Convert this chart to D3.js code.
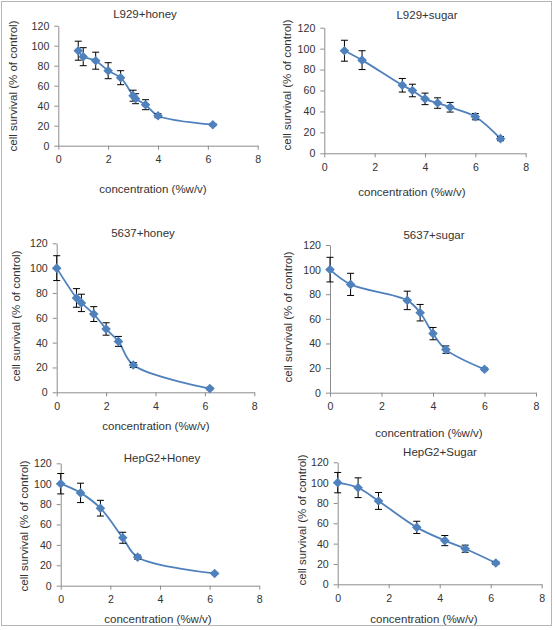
<!DOCTYPE html>
<html>
<head>
<meta charset="utf-8">
<script src="https://cdn.jsdelivr.net/npm/d3@7/dist/d3.min.js"></script>
<style>
html,body{margin:0;padding:0;background:#fff;}
svg{display:block;}
text{font-family:"Liberation Sans",Arial,sans-serif;fill:#333;}
</style>
</head>
<body>
<svg id="chart" width="555" height="630"></svg>
<script>
// ---- data ----
const panelTitles = ["L929+honey", "L929+sugar", "5637+honey", "5637+sugar", "HepG2+Honey", "HepG2+Sugar"];
const xTicks = [0, 2, 4, 6, 8];
const yTicks = [0, 20, 40, 60, 80, 100, 120];
const xAxisTitle = "concentration (%w/v)";
const yAxisTitle = "cell survival (% of control)";

const l929HoneyX   = [0.8, 1.0, 1.5, 2.0, 2.5, 3.0, 3.1, 3.5, 4.0, 6.2];
const l929HoneyY   = [95, 89, 85, 75, 68, 50, 47, 41, 30, 21];
const l929HoneyErr = [9.5, 9, 8.5, 8, 7, 5.5, 5, 5, 2, 1];

const l929SugarX   = [0.8, 1.5, 3.1, 3.5, 4.0, 4.5, 5.0, 6.0, 7.0];
const l929SugarY   = [98, 89, 65, 60, 52, 48, 44, 35, 14];
const l929SugarErr = [10, 9, 6.5, 6, 5.5, 5, 4.6, 3, 2];

const c5637HoneyX   = [0, 0.8, 1.0, 1.5, 2.0, 2.5, 3.1, 6.2];
const c5637HoneyY   = [100, 76, 72, 63, 51, 41, 22, 3];
const c5637HoneyErr = [10, 7.5, 7, 6, 5, 4, 2, 1];

const c5637SugarX   = [0, 0.8, 3.0, 3.5, 4.0, 4.5, 6.0];
const c5637SugarY   = [100, 88, 75, 65, 48, 35, 19];
const c5637SugarErr = [10, 9, 7.5, 6.7, 5, 3, 1];

const hepG2HoneyX   = [0, 0.8, 1.6, 2.5, 3.1, 6.2];
const hepG2HoneyY   = [100, 91, 76, 47, 28, 12];
const hepG2HoneyErr = [10, 9.5, 7.7, 5.4, 2, 1];

const hepG2SugarX   = [0, 0.8, 1.6, 3.1, 4.2, 5.0, 6.2];
const hepG2SugarY   = [100, 95, 82, 56, 43, 35, 21];
const hepG2SugarErr = [10, 9.7, 8.3, 6, 5, 3.5, 1.5];

const seriesX   = [l929HoneyX, l929SugarX, c5637HoneyX, c5637SugarX, hepG2HoneyX, hepG2SugarX];
const seriesY   = [l929HoneyY, l929SugarY, c5637HoneyY, c5637SugarY, hepG2HoneyY, hepG2SugarY];
const seriesErr = [l929HoneyErr, l929SugarErr, c5637HoneyErr, c5637SugarErr, hepG2HoneyErr, hepG2SugarErr];

// ---- layout (pixel positions of each panel) ----
const layout = [
  {x0: 58.3, x1: 257.7, yt: 25.7, yb: 145.7, tx: 145, ty: 15, xtx: 153, xty: 190, ytx: 14, yty: 86},
  {x0: 324.3, x1: 525.7, yt: 27.7, yb: 153.3, tx: 427, ty: 16, xtx: 412, xty: 193, ytx: 288, yty: 85},
  {x0: 56.7, x1: 254.3, yt: 243.3, yb: 392.3, tx: 143, ty: 234, xtx: 156, xty: 427, ytx: 17, yty: 316},
  {x0: 330, x1: 536, yt: 245, yb: 392.7, tx: 434, ty: 236, xtx: 429, xty: 434, ytx: 289, yty: 317},
  {x0: 60.7, x1: 259.3, yt: 463.3, yb: 585.7, tx: 162, ty: 459, xtx: 158, xty: 620, ytx: 25, yty: 526},
  {x0: 337.7, x1: 541.7, yt: 462.3, yb: 584.3, tx: 440, ty: 453, xtx: 424, xty: 620, ytx: 303, yty: 520}
];

const lineColor = "#4f81bd";
const axisColor = "#8c8c8c";

const svg = d3.select("#chart");
svg.append("rect").attr("x", 1.5).attr("y", 1.5).attr("width", 550).attr("height", 624)
  .attr("fill", "#fff").attr("stroke", "#b5b5b5").attr("stroke-width", 1);

panelTitles.forEach((title, i) => {
  const L = layout[i];
  const xs = seriesX[i], ys = seriesY[i], es = seriesErr[i];
  const x = d3.scaleLinear().domain([0, 8]).range([L.x0, L.x1]);
  const y = d3.scaleLinear().domain([0, 120]).range([L.yb, L.yt]);
  const g = svg.append("g");

  const xAxis = g.append("g").attr("transform", `translate(0,${L.yb})`)
    .call(d3.axisBottom(x).tickValues(xTicks).tickSize(4).tickSizeOuter(0).tickPadding(6));
  const yAxis = g.append("g").attr("transform", `translate(${L.x0},0)`)
    .call(d3.axisLeft(y).tickValues(yTicks).tickSize(4).tickSizeOuter(0).tickPadding(5));
  [xAxis, yAxis].forEach(a => {
    a.selectAll("path,line").attr("stroke", axisColor).attr("stroke-width", 1);
    a.selectAll("text").attr("font-size", "10.6px").attr("fill", "#333")
      .attr("font-family", "Liberation Sans, Arial, sans-serif");
  });

  g.append("text").attr("x", L.tx).attr("y", L.ty).attr("text-anchor", "middle")
    .attr("dominant-baseline", "middle").attr("font-size", "11.5px").text(title);
  g.append("text").attr("x", L.xtx).attr("y", L.xty).attr("text-anchor", "middle")
    .attr("dominant-baseline", "middle").attr("font-size", "11.5px").text(xAxisTitle);
  g.append("text").attr("transform", `translate(${L.ytx},${L.yty}) rotate(-90)`)
    .attr("text-anchor", "middle").attr("dominant-baseline", "middle")
    .attr("font-size", "11.5px").text(yAxisTitle);

  const pts = xs.map((v, k) => ({x: v, y: ys[k], e: es[k]}));
  const line = d3.line().x(d => x(d.x)).y(d => y(d.y)).curve(d3.curveCatmullRom.alpha(0.5));
  g.append("path").datum(pts).attr("d", line).attr("fill", "none")
    .attr("stroke", lineColor).attr("stroke-width", 1.8);

  const eb = g.selectAll("g.eb").data(pts).enter().append("g").attr("class", "eb")
    .attr("stroke", "#000").attr("stroke-width", 1);
  eb.append("line").attr("x1", d => x(d.x)).attr("x2", d => x(d.x))
    .attr("y1", d => y(d.y + d.e)).attr("y2", d => y(d.y - d.e));
  eb.append("line").attr("x1", d => x(d.x) - 3.5).attr("x2", d => x(d.x) + 3.5)
    .attr("y1", d => y(d.y + d.e)).attr("y2", d => y(d.y + d.e));
  eb.append("line").attr("x1", d => x(d.x) - 3.5).attr("x2", d => x(d.x) + 3.5)
    .attr("y1", d => y(d.y - d.e)).attr("y2", d => y(d.y - d.e));

  const r = 4.8;
  g.selectAll("path.mk").data(pts).enter().append("path").attr("class", "mk")
    .attr("d", d => `M${x(d.x)},${y(d.y) - r}L${x(d.x) + r},${y(d.y)}L${x(d.x)},${y(d.y) + r}L${x(d.x) - r},${y(d.y)}Z`)
    .attr("fill", lineColor);
});
</script>
</body>
</html>
